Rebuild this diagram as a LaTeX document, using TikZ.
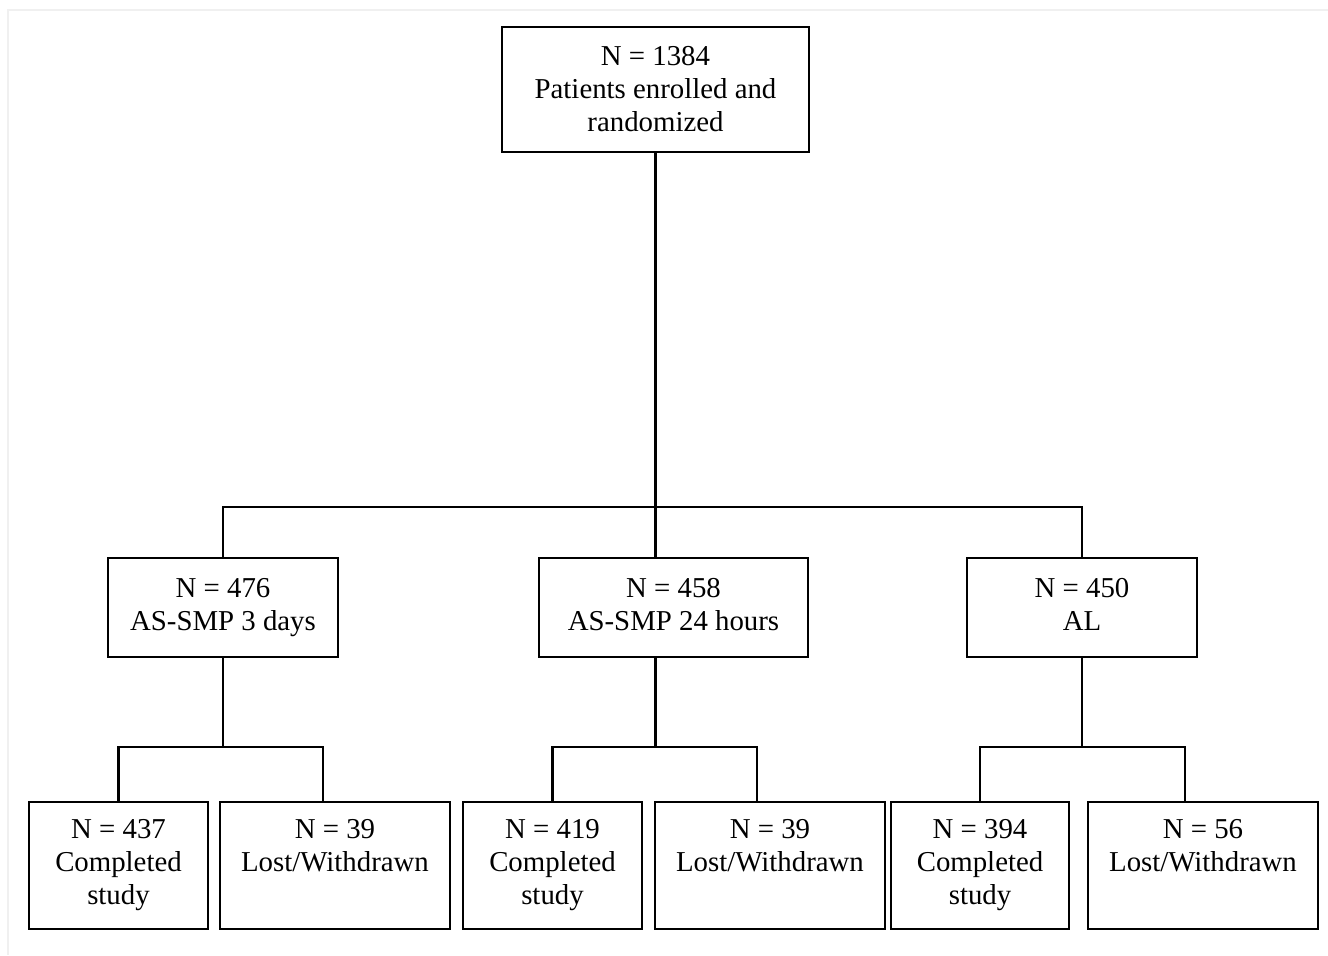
\documentclass[tikz,border=0pt]{standalone}
\usepackage{fontspec}
\setmainfont{Liberation Serif}
\usetikzlibrary{positioning}
\usetikzlibrary{calc}

\begin{document}
\begin{tikzpicture}
	\definecolor{FrameColor}{RGB}{240,240,240}
	\def \MidY {-12.15};
	\def \LowY {-17.31};
	\tikzset{
		box/.style={draw, line width=1.2pt, align=center, inner sep=0pt,
			font=\fontsize{16.4}{18.8}\selectfont},
		link/.style={line width=1.2pt}
	}
	
	\useasboundingbox (0,0) rectangle (26.56,-19.1);
	\draw [FrameColor, line width=0.6pt] (0.16,-19.1) -- (0.16,-0.2) -- (26.56,-0.2);
	
	\node[box, minimum width=6.14cm, minimum height=2.5cm] (top) at (13.11,-1.79) {N = 1384\\Patients enrolled and\\randomized};
	
	\node[box, minimum width=4.6cm, minimum height=1.98cm] (grpA) at (4.46,\MidY) {N = 476\\AS-SMP 3 days};
	\node[box, minimum width=5.38cm, minimum height=1.98cm] (grpB) at (13.47,\MidY) {N = 458\\AS-SMP 24 hours\vphantom{y}};
	\node[box, minimum width=4.6cm, minimum height=1.98cm] (grpC) at (21.64,\MidY) {N = 450\\AL\vphantom{y}};
	
	\node[box, minimum width=3.58cm, minimum height=2.54cm] (doneA) at (2.37,\LowY) {N = 437\\Completed\\study};
	\node[box, minimum width=4.6cm, minimum height=2.54cm] (lostA) at (6.7,\LowY) {N = 39\\Lost/Withdrawn\\\phantom{study}};
	\node[box, minimum width=3.58cm, minimum height=2.54cm] (doneB) at (11.05,\LowY) {N = 419\\Completed\\study};
	\node[box, minimum width=4.6cm, minimum height=2.54cm] (lostB) at (15.4,\LowY) {N = 39\\Lost/Withdrawn\\\phantom{study}};
	\node[box, minimum width=3.56cm, minimum height=2.54cm] (doneC) at (19.6,\LowY) {N = 394\\Completed\\study};
	\node[box, minimum width=4.6cm, minimum height=2.54cm] (lostC) at (24.06,\LowY) {N = 56\\Lost/Withdrawn\\\phantom{study}};
	
	\coordinate (barTop) at (0,-10.14);
	\coordinate (barLow) at (0,-14.94);
	\coordinate (lostAin) at ([xshift=-0.24cm]lostA.north);
	\coordinate (lostBin) at ([xshift=-0.26cm]lostB.north);
	\coordinate (lostCin) at ([xshift=-0.36cm]lostC.north);
	
	% randomization
	\draw [link] (top.south) -- (top.south |- grpB.north);
	\draw [link] (grpA.north) -- (grpA.north |- barTop) -- (grpC.north |- barTop) -- (grpC.north);
	
	% outcome per arm
	\draw [link] (grpA.south) -- (grpA.south |- barLow);
	\draw [link] (doneA.north) -- (doneA.north |- barLow) -- (lostAin |- barLow) -- (lostAin);
	\draw [link] (top.south |- grpB.south) -- (top.south |- barLow);
	\draw [link] (doneB.north) -- (doneB.north |- barLow) -- (lostBin |- barLow) -- (lostBin);
	\draw [link] (grpC.south) -- (grpC.south |- barLow);
	\draw [link] (doneC.north) -- (doneC.north |- barLow) -- (lostCin |- barLow) -- (lostCin);
\end{tikzpicture}
\end{document}
